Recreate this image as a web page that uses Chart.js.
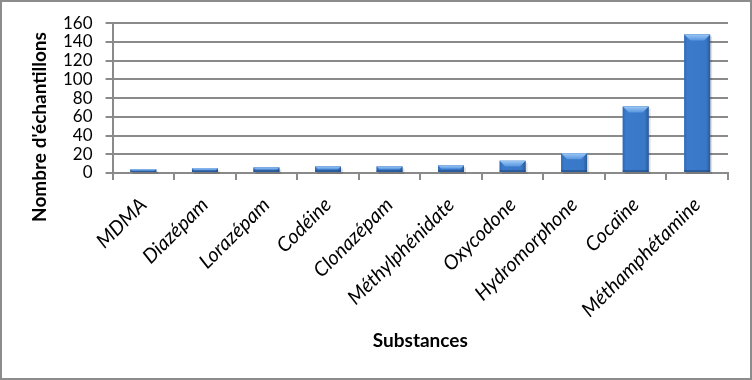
<!DOCTYPE html>
<html>
<head>
<meta charset="utf-8">
<script src="https://cdn.jsdelivr.net/npm/chart.js@4.4.1/dist/chart.umd.min.js"></script>
<style>
  html, body { margin: 0; padding: 0; background: #fff; }
  #wrap { width: 752px; height: 380px; }
</style>
</head>
<body>
<div id="wrap"><canvas id="substancesChart"></canvas></div>
<script>
// data
const substances = ['MDMA', 'Diazépam', 'Lorazépam', 'Codéine', 'Clonazépam',
  'Méthylphénidate', 'Oxycodone', 'Hydromorphone', 'Cocaïne', 'Méthamphétamine'];
const samples = [4, 5, 6, 7, 7, 8, 13, 21, 71, 148];
const yTicks = [0, 20, 40, 60, 80, 100, 120, 140, 160];
const yTitle = "Nombre d'échantillons";
const xTitle = 'Substances';

const gridGray = '#8a8a8a';

// outer frame + y title (centred like the original, not on the plot area)
const frame = {
  id: 'frame',
  afterDraw(chart) {
    const ctx = chart.ctx;
    ctx.save();
    ctx.strokeStyle = '#8c8c8c';
    ctx.lineWidth = 2;
    ctx.strokeRect(1, 1, chart.width - 2, chart.height - 2);
    ctx.translate(40, 127);
    ctx.rotate(-Math.PI / 2);
    ctx.font = 'bold 19px Lato';
    ctx.fillStyle = '#000';
    ctx.textAlign = 'center';
    ctx.textBaseline = 'middle';
    ctx.fillText(yTitle, 0, 0);
    ctx.restore();
  }
};

// excel-ish bevel on the columns
const bevel = {
  id: 'bevel',
  afterDatasetsDraw(chart) {
    const ctx = chart.ctx;
    chart.getDatasetMeta(0).data.forEach(bar => {
      const l = bar.x - bar.width / 2, r = bar.x + bar.width / 2;
      const t = bar.y, b = bar.base;
      const d = Math.min(6, (b - t) / 2);
      ctx.save();
      // faint shadow under/right of the column
      ctx.fillStyle = 'rgba(0,0,0,0.12)';
      ctx.fillRect(l + 2, t + 2, r - l, b - t);
      let g = ctx.createLinearGradient(l, 0, r, 0);
      g.addColorStop(0, '#3068b3');
      g.addColorStop(0.12, '#3b7bcb');
      g.addColorStop(0.85, '#3977c7');
      g.addColorStop(1, '#295a9a');
      ctx.fillStyle = g;
      ctx.fillRect(l, t, r - l, b - t);
      // darker bottom edge
      ctx.fillStyle = 'rgba(30,65,115,0.5)';
      ctx.fillRect(l, b - Math.min(2, d), r - l, Math.min(2, d));
      // top highlight
      g = ctx.createLinearGradient(0, t, 0, t + d);
      g.addColorStop(0, '#9cc8f5');
      g.addColorStop(1, '#5895df');
      ctx.fillStyle = g;
      ctx.beginPath();
      ctx.moveTo(l, t); ctx.lineTo(r, t); ctx.lineTo(r - d, t + d); ctx.lineTo(l + d, t + d);
      ctx.fill();
      ctx.restore();
    });
  }
};

new Chart(document.getElementById('substancesChart'), {
  type: 'bar',
  data: {
    labels: substances,
    datasets: [{
      data: samples,
      backgroundColor: '#3b77c3',
      barPercentage: 0.42,
      categoryPercentage: 1.0
    }]
  },
  options: {
    responsive: true,
    maintainAspectRatio: false,
    animation: false,
    layout: { padding: { left: 50, right: 24, top: 14, bottom: 28 } },
    plugins: {
      legend: { display: false },
      tooltip: { enabled: false }
    },
    scales: {
      x: {
        // chart.js caps a horizontal axis at half the height; the original's axis band is taller
        afterFit: s => { s.height = 179; },
        grid: {
          drawOnChartArea: false,
          drawTicks: true,
          tickLength: 7,
          color: gridGray,
          lineWidth: 2
        },
        border: { color: gridGray, width: 2 },
        ticks: {
          autoSkip: false,
          minRotation: 45,
          maxRotation: 45,
          padding: 13,
          color: '#000',
          font: { family: 'Lato', size: 20, style: 'italic' }
        },
        title: {
          display: true,
          text: xTitle,
          color: '#000',
          padding: { top: 11, bottom: 0 },
          font: { family: 'Lato', size: 19, weight: 'bold' }
        }
      },
      y: {
        min: 0,
        max: 160,
        afterBuildTicks: s => { s.ticks = yTicks.map(v => ({ value: v })); },
        grid: {
          color: gridGray,
          lineWidth: 2,
          tickLength: 7
        },
        border: { color: gridGray, width: 2 },
        ticks: {
          autoSkip: false,
          padding: 13,
          color: '#000',
          font: { family: 'Lato', size: 17 }
        }
      }
    }
  },
  plugins: [frame, bevel]
});
</script>
</body>
</html>
